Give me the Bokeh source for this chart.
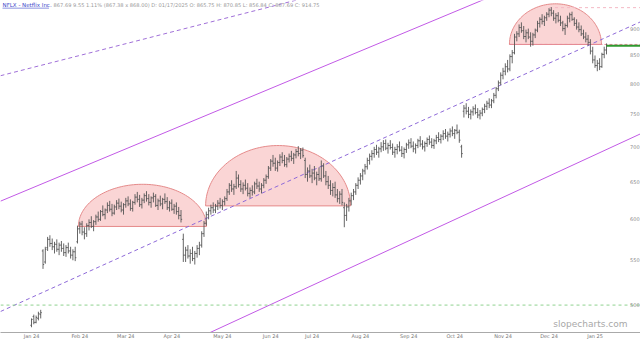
import numpy as np
from bokeh.plotting import figure
from bokeh.models import Range1d, FixedTicker, Label, Span
from bokeh.embed import file_html
from bokeh.resources import INLINE

# ---------------- data (daily OHLC) ----------------
opens = [479, 488, 482, 486, 490, 561, 548, 565, 575, 570,
         566, 569, 563, 568, 564, 559, 565, 561, 556, 560,
         572, 588, 594, 584, 582, 592, 596, 591, 597, 603,
         600, 610, 606, 612, 618, 613, 608, 616, 621, 617,
         612, 619, 624, 620, 614, 622, 629, 626, 619, 625,
         631, 627, 622, 628, 630, 618, 624, 620, 626, 623,
         615, 621, 613, 617, 610, 605, 575, 556, 562, 555,
         558, 552, 558, 564, 568, 582, 595, 606, 611, 615,
         612, 617, 621, 618, 623, 627, 636, 645, 640, 643,
         655, 646, 640, 645, 641, 634, 638, 636, 647, 644,
         640, 645, 652, 657, 669, 679, 676, 669, 677, 685,
         680, 674, 682, 686, 683, 688, 693, 690, 695, 680,
         660, 665, 658, 662, 655, 660, 654, 672, 658, 650,
         645, 638, 642, 632, 627, 633, 615, 605, 616, 624,
         631, 636, 645, 652, 658, 665, 671, 680, 686, 690,
         696, 692, 697, 700, 705, 698, 702, 699, 692, 696,
         700, 695, 690, 696, 703, 706, 701, 697, 702, 709,
         704, 700, 705, 711, 707, 702, 709, 714, 711, 716,
         720, 716, 719, 724, 720, 725, 722, 700, 755, 760,
         755, 750, 754, 759, 753, 749, 752, 758, 763, 768,
         765, 772, 781, 792, 802, 815, 822, 830, 826, 848,
         855, 884, 890, 902, 896, 885, 892, 884, 876, 888,
         897, 910, 918, 914, 921, 928, 936, 930, 920, 925,
         916, 911, 900, 906, 920, 927, 918, 910, 903, 898,
         890, 884, 880, 874, 858, 842, 832, 836, 830, 852,
         860]
highs = [486, 490, 489, 493, 495, 563, 566, 578, 580, 576,
         572, 575, 571, 573, 570, 568, 571, 566, 563, 566,
         592, 597, 598, 590, 595, 600, 604, 599, 606, 610,
         612, 618, 614, 622, 624, 620, 619, 625, 627, 623,
         621, 628, 630, 626, 624, 633, 636, 632, 628, 634,
         637, 633, 630, 635, 633, 627, 631, 628, 634, 629,
         624, 626, 620, 622, 616, 612, 582, 566, 568, 563,
         566, 561, 568, 572, 585, 598, 610, 615, 619, 622,
         620, 625, 628, 626, 630, 640, 648, 652, 647, 665,
         660, 652, 649, 653, 648, 642, 645, 650, 654, 650,
         648, 655, 660, 672, 682, 688, 684, 680, 689, 692,
         688, 685, 690, 694, 691, 697, 701, 698, 699, 684,
         670, 674, 668, 672, 664, 670, 680, 676, 665, 658,
         652, 648, 650, 640, 637, 640, 622, 620, 628, 635,
         640, 648, 656, 662, 668, 675, 684, 690, 695, 700,
         703, 700, 707, 710, 711, 706, 710, 705, 700, 704,
         708, 701, 699, 706, 711, 713, 708, 705, 712, 716,
         710, 708, 714, 717, 713, 712, 718, 722, 719, 725,
         727, 723, 728, 731, 727, 734, 726, 703, 765, 768,
         762, 758, 763, 766, 760, 757, 761, 767, 772, 776,
         775, 785, 795, 806, 820, 828, 836, 842, 852, 860,
         890, 895, 908, 912, 905, 898, 900, 893, 892, 900,
         915, 922, 928, 925, 932, 940, 942, 936, 930, 932,
         925, 915, 910, 925, 931, 933, 922, 918, 912, 906,
         898, 893, 888, 880, 866, 850, 842, 845, 855, 866,
         872]
lows = [477, 480, 481, 484, 486, 540, 546, 561, 566, 562,
        558, 560, 556, 560, 555, 554, 558, 552, 550, 549,
        570, 582, 580, 575, 578, 586, 589, 585, 593, 597,
        598, 604, 600, 608, 610, 604, 606, 612, 613, 609,
        606, 615, 617, 611, 610, 619, 622, 616, 614, 621,
        623, 618, 615, 622, 616, 612, 617, 613, 620, 612,
        610, 611, 607, 606, 600, 596, 548, 548, 552, 546,
        549, 545, 553, 556, 565, 578, 592, 600, 606, 608,
        608, 612, 614, 612, 618, 624, 632, 636, 632, 640,
        642, 636, 633, 638, 630, 628, 631, 633, 640, 636,
        634, 641, 647, 654, 665, 671, 665, 664, 672, 676,
        671, 670, 677, 679, 675, 683, 686, 682, 684, 655,
        650, 655, 648, 652, 645, 651, 650, 655, 645, 640,
        632, 630, 628, 622, 620, 618, 590, 598, 610, 618,
        625, 632, 640, 646, 652, 660, 667, 674, 680, 684,
        688, 684, 692, 694, 695, 690, 696, 688, 684, 689,
        693, 685, 683, 691, 697, 698, 692, 690, 698, 700,
        696, 693, 700, 703, 698, 697, 704, 707, 705, 710,
        712, 708, 714, 716, 712, 719, 706, 684, 745, 750,
        744, 742, 748, 750, 744, 742, 747, 752, 757, 760,
        760, 768, 776, 788, 798, 808, 815, 820, 822, 836,
        852, 876, 884, 892, 880, 874, 880, 866, 868, 882,
        893, 902, 908, 905, 915, 922, 924, 915, 910, 912,
        905, 895, 888, 902, 912, 915, 905, 898, 893, 886,
        880, 874, 868, 852, 836, 828, 822, 824, 828, 845,
        852]
closes = [485, 482, 487, 491, 492, 545, 563, 575, 570, 566,
          569, 563, 568, 564, 559, 565, 561, 556, 560, 553,
          588, 594, 584, 582, 592, 596, 591, 597, 603, 600,
          610, 606, 612, 618, 613, 608, 616, 621, 617, 612,
          619, 624, 620, 614, 622, 629, 626, 619, 625, 631,
          627, 622, 628, 630, 618, 624, 620, 626, 623, 615,
          621, 613, 617, 610, 605, 600, 556, 562, 555, 558,
          552, 558, 564, 568, 582, 595, 606, 611, 615, 612,
          617, 621, 618, 623, 627, 636, 645, 640, 643, 655,
          646, 640, 645, 641, 634, 638, 636, 647, 644, 640,
          645, 652, 657, 669, 679, 676, 669, 677, 685, 680,
          674, 682, 686, 683, 688, 693, 690, 695, 687, 660,
          665, 658, 662, 655, 660, 654, 672, 658, 650, 645,
          638, 642, 632, 627, 633, 622, 605, 616, 624, 631,
          636, 645, 652, 658, 665, 671, 680, 686, 690, 696,
          692, 697, 700, 705, 698, 702, 699, 692, 696, 700,
          695, 690, 696, 703, 706, 701, 697, 702, 709, 704,
          700, 705, 711, 707, 702, 709, 714, 711, 716, 720,
          716, 719, 724, 720, 725, 722, 710, 690, 760, 755,
          750, 754, 759, 753, 749, 752, 758, 763, 768, 765,
          772, 781, 792, 802, 815, 822, 830, 826, 848, 855,
          884, 890, 902, 896, 885, 892, 884, 876, 888, 897,
          910, 918, 914, 921, 928, 936, 930, 920, 925, 916,
          911, 900, 906, 920, 927, 918, 910, 903, 898, 890,
          884, 880, 874, 858, 842, 832, 836, 830, 852, 860,
          868]
bar_index = list(range(len(closes)))

month_ticks = [0, 21, 41, 61, 83, 104, 122, 143, 164, 184, 205, 225, 245]
month_labels = ["Jan 24", "Feb 24", "Mar 24", "Apr 24", "May 24", "Jun 24",
                "Jul 24", "Aug 24", "Sep 24", "Oct 24", "Nov 24", "Dec 24", "Jan 25"]
price_ticks = [500, 550, 600, 650, 700, 750, 800, 850, 900]

# rounded-top patterns: start index, end index, base price, top price
hump_start = [20.4, 75.7, 207.8]
hump_end = [76.1, 138.7, 247.8]
hump_base = [591.0, 617.4, 870.2]
hump_top = [646.4, 701.9, 948.7]

# trend lines: (x0, price0, x1, price1)
channel_mid = (-13.5, 493.2, 264.8, 913.1)
channel_low = (64.8, 458.2, 264.8, 719.6)
channel_up = (-13.5, 623.6, 264.8, 1100.0)
upper_dash = (-13.5, 814.2, 117.0, 958.4)

alert_level = 500
last_price = 867.69
peak_level = 941.0
header_sym = "NFLX - Netflix Inc."
header_txt = "867.69  9.55  1.11%  (867.38 x 868.00)  D: 01/17/2025  O: 865.75  H: 870.85  L: 856.84  C: 867.69  C: 914.75"

# ---------------- figure ----------------
x_lo, x_hi = -13.48, 264.78
y_lo, y_hi = 471.7, 955.4
p = figure(width=640, height=341, y_axis_type="log",
           x_range=Range1d(x_lo, x_hi), y_range=Range1d(y_lo, y_hi),
           y_axis_location=None, output_backend="svg", toolbar_location=None,
           min_border=0, background_fill_color="white", border_fill_color="white")
p.outline_line_color = None
p.grid.visible = False

ax = p.xaxis[0]
ax.ticker = FixedTicker(ticks=month_ticks)
ax.major_label_overrides = {t: l for t, l in zip(month_ticks, month_labels)}
ax.major_label_text_font_size = "5px"
ax.major_label_text_color = "#777777"
ax.major_label_text_font = "DejaVu Sans"
ax.major_tick_line_color = None
ax.minor_tick_line_color = None
ax.major_tick_out = 0
ax.major_tick_in = 0
ax.minor_tick_out = 0
ax.minor_tick_in = 0
ax.major_label_standoff = 0
ax.axis_label_standoff = 0
ax.axis_line_color = "#aaaaaa"

# humps (half ellipses in the log-scaled plane)
t = np.linspace(0, np.pi, 80)
for s, e, b, tp in zip(hump_start, hump_end, hump_base, hump_top):
    cx, a = (s + e) / 2, (e - s) / 2
    xs = cx + a * np.cos(t)
    ys = np.exp(np.log(b) + (np.log(tp) - np.log(b)) * np.sin(t))
    p.patch(list(xs), list(ys), fill_color="#f6b3b3", fill_alpha=0.55,
            line_color="#e58a8a", line_width=1)

# horizontal level lines
p.add_layout(Span(location=alert_level, dimension="width", line_color="#8fd18f",
                  line_dash="3 3", line_width=1))
p.segment(x0=[hump_start[2]], y0=[hump_base[2]], x1=[x_hi], y1=[hump_base[2]],
          line_color="#e58a9a", line_dash="3 2", line_width=1)
p.segment(x0=[225.0], y0=[peak_level], x1=[x_hi], y1=[peak_level],
          line_color="#f4b8c4", line_dash="3 3", line_width=1)

# trend lines
for ln, col, dash in [(channel_mid, "#8e6ad8", "4 3"), (upper_dash, "#a070d8", "4 3"),
                      (channel_low, "#c25ae6", "solid"), (channel_up, "#c25ae6", "solid")]:
    p.line([ln[0], ln[2]], [ln[1], ln[3]], line_color=col, line_dash=dash, line_width=1)

# OHLC bars
bi = np.array(bar_index, dtype=float)
bar_col = "#555555"
p.segment(x0=bi, y0=lows, x1=bi, y1=highs, line_color=bar_col, line_width=0.9)
p.segment(x0=bi - 0.5, y0=opens, x1=bi, y1=opens, line_color=bar_col, line_width=0.9)
p.segment(x0=bi, y0=closes, x1=bi + 0.5, y1=closes, line_color=bar_col, line_width=0.9)

# last price line
p.segment(x0=[bar_index[-1]], y0=[last_price], x1=[x_hi], y1=[last_price],
          line_color="#2f9a2f", line_width=2)

# price labels on the right, inside the plot
for pt in price_ticks:
    p.add_layout(Label(x=262.3, y=pt, text=str(pt), text_font_size="5px",
                       text_color="#888888", text_align="center", text_baseline="middle",
                       text_font="DejaVu Sans"))

# header
p.add_layout(Label(x=-12.6, y=946.0, text=header_sym, text_font_size="5.5px",
                   text_color="#3b47c9", text_baseline="middle", text_font="DejaVu Sans"))
p.segment(x0=[-12.6], y0=[940.0], x1=[7.6], y1=[940.0], line_color="#3b47c9", line_width=0.6)
p.add_layout(Label(x=9.6, y=946.0, text=header_txt, text_font_size="5.1px",
                   text_color="#9a9a9a", text_baseline="middle", text_font="DejaVu Sans"))

# watermark
p.add_layout(Label(x=243.0, y=480.3, text="slopecharts.com", text_font_size="9px",
                   text_color="#a8a8a8", text_align="center", text_baseline="middle",
                   text_font="DejaVu Sans"))

open("out.html", "w").write(file_html(p, INLINE))
